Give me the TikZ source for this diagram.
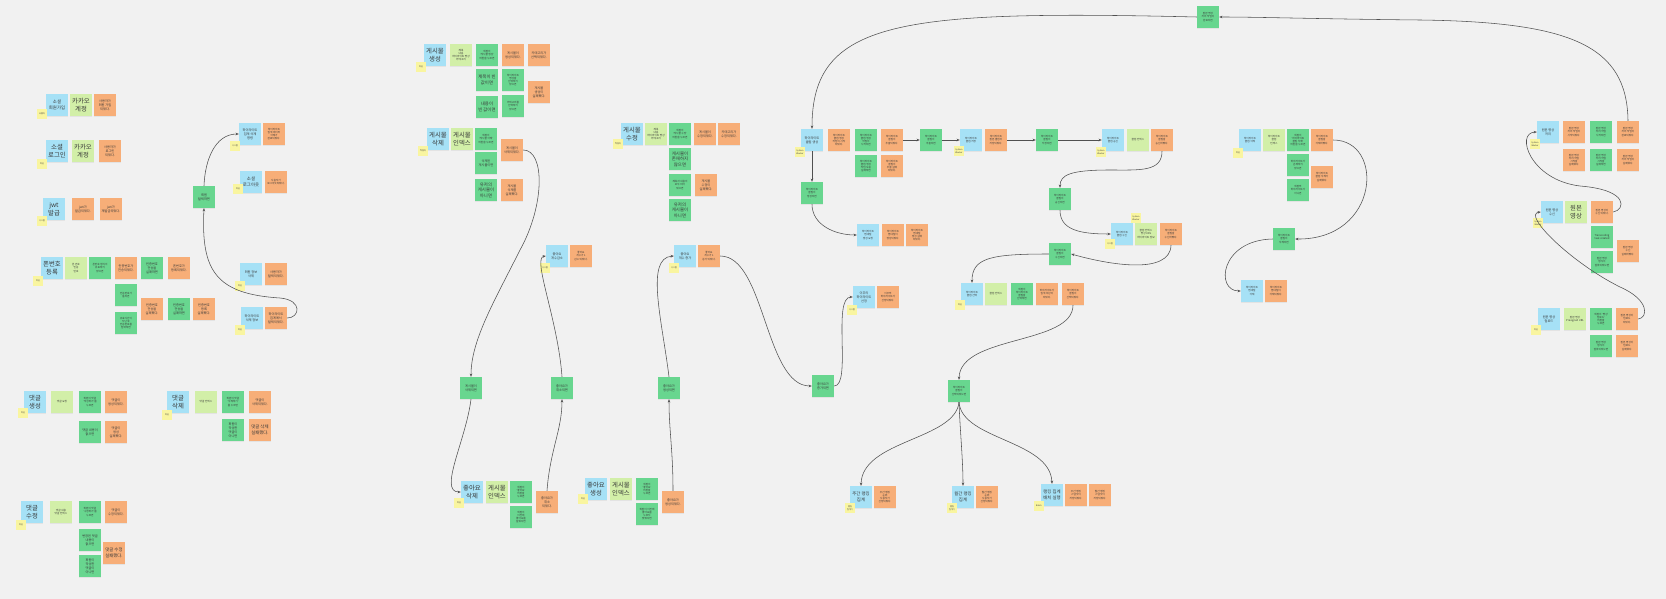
\documentclass[tikz,border=0pt]{standalone}
\usepackage{fontspec}
\setmainfont{Noto Sans CJK KR}
\usetikzlibrary{arrows.meta,shadows}
\definecolor{cbg}{HTML}{F1F1F1}
\definecolor{cblue}{HTML}{A6E1F6}
\definecolor{clg}{HTML}{D2EFA8}
\definecolor{cgr}{HTML}{68D68F}
\definecolor{cor}{HTML}{F7AE78}
\definecolor{cye}{HTML}{F9F5A0}
\definecolor{cln}{HTML}{505050}
\tikzset{
 note/.style={rectangle, minimum width=22pt, minimum height=22pt, inner sep=0.4pt, align=center, text=black!78, drop shadow={shadow xshift=0.2pt, shadow yshift=-0.7pt, opacity=0.12}},
 cmd/.style={note, fill=cblue},
 agg/.style={note, fill=clg},
 pol/.style={note, fill=cgr},
 evt/.style={note, fill=cor},
 act/.style={rectangle, minimum width=10pt, minimum height=10pt, inner sep=0.3pt, align=center, fill=cye, text=black!75, font=\fontsize{2.1}{2.5}\selectfont},
 fT/.style={font=\fontsize{2.6}{3.1}\selectfont},
 fS/.style={font=\fontsize{3.2}{3.9}\selectfont},
 fM/.style={font=\fontsize{4.4}{5.4}\selectfont},
 fB/.style={font=\fontsize{6.4}{7.8}\selectfont},
 link/.style={draw=cln, line width=0.55pt, -{Stealth[length=3.2pt,width=2.6pt]}},
}
\begin{document}
\begin{tikzpicture}[x=1pt,y=-1pt]
\fill[cbg] (0,0) rectangle (1666,599);
\useasboundingbox (0,0) rectangle (1666,599);

% ---- 소셜 회원가입
\node[cmd,fM] (a1) at (57,105) {소셜\\회원가입};
\node[act] (a1u) at (42,114) {사용자};
\node[agg,fB] (a2) at (81,105) {카카오\\계정};
\node[evt,fS] (a3) at (105,105) {사용자가\\회원 가입\\되었다.};
% ---- 소셜 로그인
\node[cmd,fB] (b1) at (57,151) {소셜\\로그인};
\node[act] (b1u) at (42,164) {회원};
\node[agg,fB] (b2) at (83,151) {카카오\\계정};
\node[evt,fS] (b3) at (110,151) {사용자가\\로그인\\되었다.};
% ---- jwt
\node[cmd,fB] (c1) at (54,209) {jwt\\발급};
\node[act] (c1u) at (42,221) {시스템};
\node[evt,fS] (c2) at (83,209) {jwt가\\발급되었다.};
\node[evt,fS] (c3) at (111,209) {jwt가\\재발급되었다.};
% ---- 폰번호 등록
\node[cmd,fB] (d1) at (52,268) {폰번호\\등록};
\node[act] (d1u) at (38,281) {회원};
\node[agg,fT] (d2) at (76,268) {폰 번호\\인증\\번호};
\node[pol,fT] (d3) at (100,268) {폰번호 형식이\\유효하지\\않으면};
\node[evt,fS] (d4) at (126,268) {인증번호가\\전송되었다.};
\node[pol,fS] (d5) at (152,268) {인증번호\\전송을\\실패하면};
\node[evt,fS] (d6) at (179,268) {폰번호가\\등록되었다.};
\node[pol,fT] (d7) at (126,295) {인증번호가\\틀리면};
\node[evt,fS] (d8) at (152,309) {인증번호\\전송을\\실패했다.};
\node[pol,fS] (d9) at (179,309) {인증번호\\전송을\\실패하면};
\node[evt,fS] (d10) at (204,309) {인증번호\\등록\\실패했다.};
\node[pol,fT] (d11) at (126,323) {유효시간이\\지난 후\\인증번호를\\입력하면};
% ---- 회원 관련 (오른쪽)
\node[pol,fS] (e1) at (204,197) {회원\\탈퇴하면};
\node[cmd,fS] (e2) at (250,134) {하이라이트\\집계 삭제\\명령};
\node[act] (e2u) at (235,146) {시스템};
\node[evt,fT] (e3) at (274,134) {하이라이트\\집계 데이터\\삭제가\\완료되었다.};
\node[cmd,fM] (e4) at (251,182) {소셜\\로그아웃};
\node[act] (e4u) at (238,189) {회원};
\node[evt,fT] (e5) at (276,182) {사용자가\\로그아웃되었다.};
\node[cmd,fS] (e6) at (251,274) {회원 정보\\삭제};
\node[act] (e6u) at (240,286) {회원};
\node[evt,fS] (e7) at (276,274) {사용자가\\탈퇴되었다.};
\node[cmd,fS] (e8) at (252,318) {하이라이트\\삭제 정보};
\node[act] (e8u) at (240,330) {회원};
\node[evt,fS] (e9) at (276,318) {하이라이트\\집계에서\\탈퇴되었다.};

% ---- 댓글 생성
\node[cmd,fB] (f1) at (35,402) {댓글\\생성};
\node[act] (f1u) at (23,413) {회원};
\node[agg,fT] (f2) at (62,402) {댓글 요청};
\node[pol,fT] (f3) at (90,402) {회원이 댓글\\'작성하기'를\\누르면};
\node[evt,fS] (f4) at (116,402) {댓글이\\생성되었다.};
\node[pol,fS] (f5) at (90,432) {댓글 내용이\\없으면};
\node[evt,fS] (f6) at (116,432) {댓글이\\생성\\실패했다.};
% ---- 댓글 삭제
\node[cmd,fB] (g1) at (178,402) {댓글\\삭제};
\node[act] (g1u) at (167,415) {회원};
\node[agg,fT] (g2) at (206,402) {댓글 인덱스};
\node[pol,fT] (g3) at (233,402) {회원이 댓글\\'삭제하기'\\를 누르면};
\node[evt,fS] (g4) at (260,402) {댓글이\\삭제되었다.};
\node[pol,fS] (g5) at (233,430) {회원이\\작성한\\댓글이\\아니면};
\node[evt,fM] (g6) at (260,430) {댓글 삭제\\실패했다.};
% ---- 댓글 수정
\node[cmd,fB] (h1) at (32,512) {댓글\\수정};
\node[act] (h1u) at (21,525) {회원};
\node[agg,fT] (h2) at (61,512) {댓글 내용\\댓글 인덱스};
\node[pol,fT] (h3) at (90,512) {회원이 댓글\\'수정하기'를\\누르면};
\node[evt,fS] (h4) at (116,512) {댓글이\\수정되었다.};
\node[pol,fS] (h5) at (90,540) {변경된 댓글\\내용이\\없으면};
\node[evt,fM] (h6) at (114,553) {댓글 수정\\실패했다.};
\node[pol,fS] (h7) at (90,566) {회원이\\작성한\\댓글이\\아니면};

% ---- 게시물 생성
\node[cmd,fB] (i1) at (435,55) {게시물\\생성};
\node[act] (i1u) at (421,67) {회원};
\node[agg,fT] (i2) at (461,55) {제목\\내용\\하이라이트 영상\\카테고리};
\node[pol,fT] (i3) at (487,55) {회원이\\'게시물 생성'\\버튼을 누르면};
\node[evt,fS] (i4) at (513,55) {게시물이\\생성되었다.};
\node[evt,fS] (i5) at (539,55) {카테고리가\\선택되었다.};
\node[pol,fM] (i6) at (487,80) {제목이 빈\\값이면};
\node[pol,fT] (i7) at (513,80) {하이라이트\\영상을\\선택하지\\않으면};
\node[evt,fS] (i8) at (539,92) {게시물\\생성이\\실패했다.};
\node[pol,fM] (i9) at (487,107) {내용이\\빈 값이면};
\node[pol,fT] (i10) at (513,106) {카테고리를\\선택하지\\않으면};
% ---- 게시물 삭제
\node[cmd,fB] (j1) at (438,139) {게시물\\삭제};
\node[act] (j1u) at (423,151) {작성자};
\node[agg,fB] (j2) at (462,139) {게시물\\인덱스};
\node[pol,fT] (j3) at (486,139) {회원이\\'게시물 삭제'\\버튼을 누르면};
\node[evt,fS] (j4) at (512,150) {게시물이\\삭제되었다.};
\node[pol,fS] (j5) at (486,163) {삭제된\\게시물이면};
\node[pol,fM] (j6) at (486,190) {유저의\\게시물이\\아니면};
\node[evt,fS] (j7) at (512,190) {게시물\\삭제를\\실패했다.};
% ---- 게시물 수정
\node[cmd,fB] (k1) at (632,134) {게시물\\수정};
\node[act] (k1u) at (618,144) {작성자};
\node[agg,fT] (k2) at (656,134) {제목\\내용\\하이라이트 영상\\카테고리};
\node[pol,fT] (k3) at (680,134) {회원이\\'게시물 수정'\\버튼을 누르면};
\node[evt,fS] (k4) at (705,134) {게시물이\\수정되었다.};
\node[evt,fS] (k5) at (729,134) {카테고리가\\수정되었다.};
\node[pol,fM] (k6) at (680,159) {게시물이\\존재하지\\않으면};
\node[pol,fT] (k7) at (680,185) {제목과 내용이\\모두 비어\\있으면};
\node[evt,fS] (k8) at (706,185) {게시물\\수정이\\실패했다.};
\node[pol,fM] (k9) at (680,210) {유저의\\게시물이\\아니면};

% ---- 좋아요
\node[pol,fS] (l1) at (471,388) {게시물이\\삭제되면};
\node[pol,fS] (l2) at (562,388) {좋아요가\\취소되면};
\node[cmd,fS] (l3) at (557,256) {좋아요\\개수감소};
\node[act] (l3u) at (545,268) {시스템};
\node[evt,fT] (l4) at (581,256) {좋아요\\개수가 1\\감소 되었다.};
\node[cmd,fB] (l5) at (472,492) {좋아요\\삭제};
\node[act] (l5u) at (459,503) {회원};
\node[agg,fB] (l6) at (497,492) {게시물\\인덱스};
\node[pol,fT] (l7) at (521,492) {회원이\\'좋아요'\\버튼을\\누르면};
\node[pol,fT] (l8) at (521,517) {회원이\\이전에\\좋아요를\\눌렀다면};
\node[evt,fS] (l9) at (547,502) {좋아요가\\취소\\되었다.};
\node[cmd,fB] (l10) at (596,489) {좋아요\\생성};
\node[act] (l10u) at (583,499) {회원};
\node[agg,fB] (l11) at (621,489) {게시물\\인덱스};
\node[pol,fT] (l12) at (647,489) {회원이\\'좋아요'\\버튼을\\누르면};
\node[pol,fT] (l13) at (647,514) {회원이 이전에\\좋아요를\\누르지\\않았다면};
\node[evt,fS] (l14) at (673,502) {좋아요가\\생성되었다.};
\node[pol,fS] (l15) at (669,388) {좋아요가\\생성되면};
\node[cmd,fS] (l16) at (685,256) {좋아요\\개수 증가};
\node[act] (l16u) at (674,268) {시스템};
\node[evt,fT] (l17) at (709,256) {좋아요\\개수가 1\\증가 되었다.};
\node[pol,fS] (l18) at (823,386) {좋아요가\\증가되면};
\node[cmd,fS] (l19) at (864,297) {이주의\\하이라이트\\선정};
\node[act] (l19u) at (852,310) {시스템};
\node[evt,fT] (l20) at (888,297) {이주의\\하이라이트가\\선정되었다.};

% ---- 하이라이트 클립
\node[pol,fT] (top) at (1208,17) {원본 영상\\처리 작업이\\완료되면};
\node[cmd,fS] (m1) at (812,140) {하이라이트\\클립 생성};
\node[act] (m1u) at (800,152) {System\\Worker};
\node[evt,fT] (m2) at (839,140) {하이라이트\\클립 생성\\작업이 시작\\되었다.};
\node[pol,fT] (m3) at (866,140) {하이라이트\\클립 생성\\작업이\\시작되면};
\node[evt,fT] (m4) at (892,140) {하이라이트\\클립이\\추출되었다.};
\node[pol,fT] (m5) at (866,166) {하이라이트\\클립 생성\\작업 도중\\실패하면};
\node[evt,fT] (m6) at (892,166) {하이라이트\\클립이\\추출 실패\\되었다.};
\node[pol,fT] (m7) at (812,193) {하이라이트\\클립이\\생성되면};
\node[cmd,fT] (m8) at (868,235) {하이라이트\\썸네일\\생성 요청};
\node[evt,fT] (m9) at (893,235) {하이라이트\\썸네일이\\생성되었다.};
\node[evt,fT] (m10) at (917,235) {하이라이트\\썸네일\\생성 실패\\되었다.};
\node[pol,fT] (m11) at (931,140) {하이라이트\\클립이\\추출되면};
\node[cmd,fT] (m12) at (971,140) {하이라이트\\클립 저장};
\node[act] (m12u) at (959,151) {System\\Worker};
\node[evt,fT] (m13) at (996,140) {하이라이트\\원본 클립이\\저장되었다.};
\node[pol,fT] (m14) at (1047,140) {하이라이트\\클립이\\저장되면};
\node[cmd,fT] (m15) at (1113,140) {하이라이트\\클립 송신};
\node[act] (m15u) at (1101,152) {System\\Worker};
\node[agg,fT] (m16) at (1138,140) {클립 인덱스};
\node[evt,fT] (m17) at (1162,140) {하이라이트\\클립을\\송신하였다.};
\node[pol,fT] (m18) at (1060,199) {하이라이트\\클립이\\송신되면};
\node[cmd,fT] (m19) at (1122,234) {하이라이트\\클립 수신};
\node[act] (m19u) at (1110,244) {시스템};
\node[act] (m19v) at (1136,218) {System\\Worker};
\node[agg,fT] (m20) at (1146,234) {클립 인덱스\\영상 URL\\하이라이트 정보};
\node[evt,fT] (m21) at (1171,234) {하이라이트\\클립을\\수신하였다.};
\node[pol,fT] (m22) at (1060,254) {하이라이트\\클립이\\수신되면};
\node[cmd,fT] (m23) at (972,294) {하이라이트\\클립 선택};
\node[act] (m23u) at (960,305) {회원};
\node[agg,fT] (m24) at (996,294) {클립 인덱스};
\node[pol,fT] (m25) at (1022,294) {회원이\\하이라이트\\클립을\\선택하면};
\node[evt,fT] (m26) at (1047,294) {하이라이트가\\집계 대상이\\되었다.};
\node[evt,fT] (m27) at (1073,294) {하이라이트\\클립이\\선택되었다.};
\node[pol,fT] (m28) at (959,391) {하이라이트\\클립이\\선택되었으면};
\node[cmd,fM] (m29) at (861,497) {주간 랭킹\\집계};
\node[act] (m29u) at (850,508) {랭킹\\집계기};
\node[evt,fT] (m30) at (885,497) {주간 랭킹\\순위\\사용자가\\선정되었다.};
\node[cmd,fM] (m31) at (963,497) {월간 랭킹\\집계};
\node[act] (m31u) at (952,508) {랭킹\\집계기};
\node[evt,fT] (m32) at (987,497) {월간 랭킹\\순위\\사용자가\\선정되었다.};
\node[cmd,fM] (m33) at (1052,495) {랭킹 집계\\배치 실행};
\node[act] (m33u) at (1039,506) {Batch};
\node[evt,fT] (m34) at (1076,495) {주간 랭킹\\스냅샷이\\저장되었다.};
\node[evt,fT] (m35) at (1100,495) {월간 랭킹\\스냅샷이\\저장되었다.};

% ---- 하이라이트 클립 삭제
\node[cmd,fT] (n1) at (1250,140) {하이라이트\\클립 삭제};
\node[act] (n1u) at (1238,153) {회원};
\node[agg,fT] (n2) at (1274,140) {하이라이트\\클립\\인덱스};
\node[pol,fT] (n3) at (1298,140) {회원이\\'하이라이트\\클립 삭제'\\버튼을 누르면};
\node[evt,fT] (n4) at (1322,140) {하이라이트\\클립을\\삭제하였다.};
\node[pol,fT] (n5) at (1298,165) {하이라이트가\\존재하지\\않으면};
\node[evt,fT] (n6) at (1322,177) {하이라이트\\클립 삭제가\\실패했다.};
\node[pol,fT] (n7) at (1298,190) {회원의\\하이라이트가\\아니면};
\node[pol,fT] (n8) at (1284,239) {하이라이트\\클립이\\삭제되면};
\node[cmd,fT] (n9) at (1252,291) {하이라이트\\썸네일\\삭제};
\node[evt,fT] (n10) at (1276,291) {하이라이트\\썸네일이\\삭제되었다.};

% ---- 원본 영상
\node[cmd,fS] (o1) at (1548,132) {원본 영상\\처리};
\node[act] (o1u) at (1535,144) {System\\Worker};
\node[evt,fT] (o2) at (1574,132) {원본 영상\\처리 작업이\\시작되었다.};
\node[pol,fT] (o3) at (1601,132) {원본 영상\\처리 작업\\시작되면};
\node[evt,fT] (o4) at (1628,132) {원본 영상\\처리 작업이\\완료되었다.};
\node[evt,fT] (o5) at (1574,160) {원본 영상\\처리 작업\\시작을\\실패했다.};
\node[pol,fT] (o6) at (1601,160) {원본 영상\\처리 작업\\시작을\\실패하면};
\node[evt,fT] (o7) at (1628,160) {원본 영상\\처리 작업이\\실패했다.};
\node[cmd,fS] (o8) at (1552,212) {원본 영상\\수신};
\node[act] (o8u) at (1538,223) {System\\Worker};
\node[agg,fB] (o9) at (1576,212) {원본\\영상};
\node[evt,fT] (o10) at (1602,212) {원본 영상이\\수신 되었다.};
\node[pol,fT] (o11) at (1602,237) {Transcoding\\task created};
\node[pol,fT] (o12) at (1602,262) {원본 영상\\형식이\\잘못되었으면};
\node[evt,fT] (o13) at (1628,251) {원본 영상\\수신\\실패하였다.};
\node[cmd,fS] (o14) at (1549,319) {원본 영상\\업로드};
\node[act] (o14u) at (1536,330) {회원};
\node[agg,fT] (o15) at (1575,319) {원본 영상\\Presigned URL};
\node[pol,fT] (o16) at (1601,319) {회원이 '영상\\업로드'\\버튼을\\누르면};
\node[evt,fT] (o17) at (1627,319) {원본 영상이\\업로드\\되었다.};
\node[pol,fT] (o18) at (1601,346) {원본 영상\\형식이\\잘못되었으면};
\node[evt,fT] (o19) at (1627,346) {원본 영상이\\업로드\\실패했다.};

% ---- connectors
\draw[link] (e1.north) .. controls (205,160) and (215,134) .. (e2.west);
\draw[link] (e9.east) .. controls (300,318) and (303,300) .. (280,298) .. controls (215,294) and (201,270) .. (e1.south);

\draw[link] (j4.east) .. controls (545,150) and (545,205) .. (520,250) .. controls (495,300) and (471,340) .. (l1.north);
\draw[link] (l1.south) .. controls (466,440) and (438,492) .. (l5.west);
\draw[link] (l9.north) .. controls (550,450) and (562,430) .. (l2.south);
\draw[link] (l2.north) .. controls (558,320) and (532,258) .. (l3.west);
\draw[link] (l14.north) .. controls (673,450) and (669,430) .. (l15.south);
\draw[link] (l15.north) .. controls (662,320) and (645,258) .. (l16.west);
\draw[link] (l17.east) .. controls (765,256) and (765,386) .. (l18.west);
\draw[link] (l18.east) .. controls (852,386) and (832,297) .. (l19.west);

\draw[link] (top.west) .. controls (900,10) and (812,20) .. (m1.north);
\draw[link] (o4.north) .. controls (1627,45) and (1570,22) .. (1420,20) .. controls (1320,19) and (1260,17) .. (top.east);
\draw[link] (m1.south) -- (m7.north);
\draw[link] (m7.south) .. controls (812,225) and (835,235) .. (m8.west);
\draw[link] (m4.east) -- (m11.west);
\draw[link] (m11.east) -- (m12.west);
\draw[link] (m13.east) -- (m14.west);
\draw[link] (m14.east) -- (m15.west);
\draw[link] (m17.south) .. controls (1162,172) and (1140,170) .. (1110,170) .. controls (1070,170) and (1060,175) .. (m18.north);
\draw[link] (m18.south) .. controls (1060,230) and (1080,234) .. (m19.west);
\draw[link] (m21.south) .. controls (1170,275) and (1110,265) .. (m22.east);
\draw[link] (m22.west) .. controls (990,254) and (972,258) .. (m23.north);
\draw[link] (m27.south) .. controls (1073,345) and (960,335) .. (m28.north);
\draw[link] (m28.south) .. controls (955,440) and (862,440) .. (m29.north);
\draw[link] (m28.south) .. controls (960,430) and (963,460) .. (m31.north);
\draw[link] (m28.south) .. controls (962,440) and (1050,440) .. (m33.north);

\draw[link] (n4.east) .. controls (1385,140) and (1380,240) .. (n8.east);
\draw[link] (n8.west) .. controls (1220,240) and (1215,291) .. (n9.west);

\draw[link] (o10.east) .. controls (1625,210) and (1630,190) .. (1580,186) .. controls (1530,180) and (1515,133) .. (o1.west);
\draw[link] (o17.east) .. controls (1648,318) and (1650,300) .. (1620,287) .. controls (1570,262) and (1522,214) .. (o8.west);
\end{tikzpicture}
\end{document}
